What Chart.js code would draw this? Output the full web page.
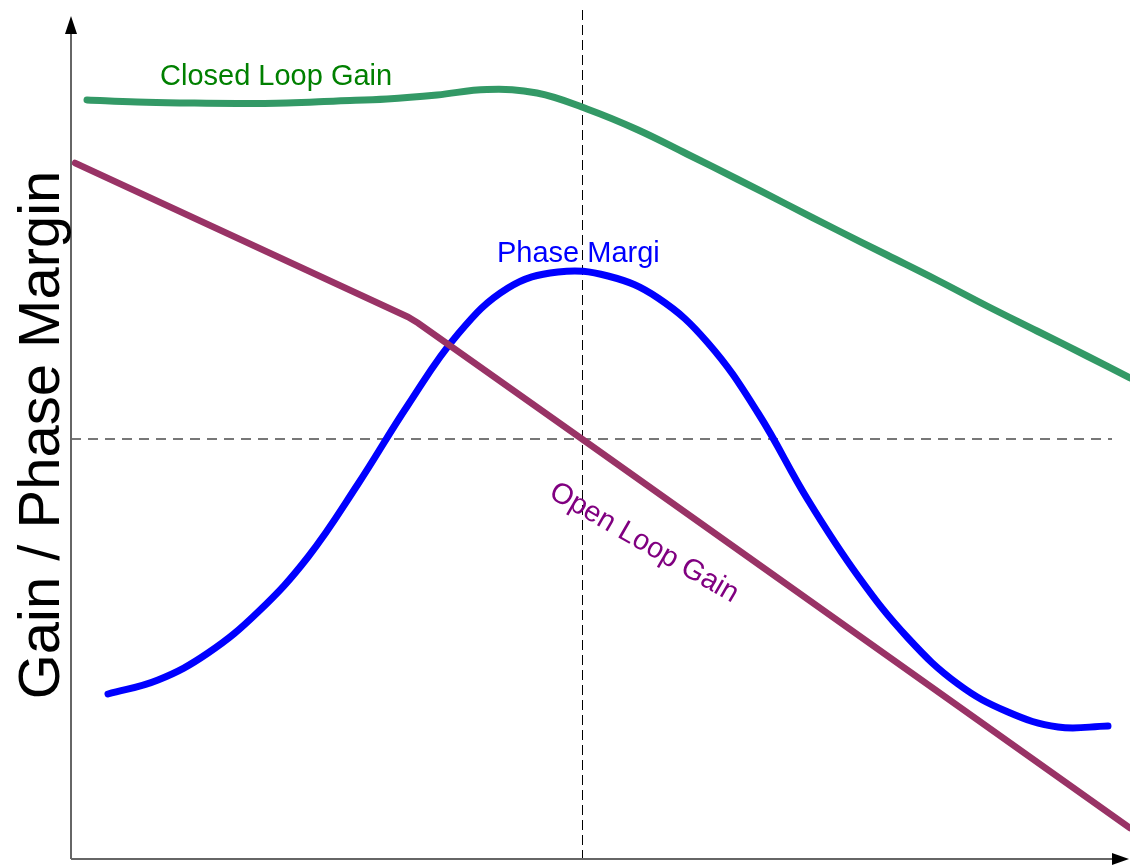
<!DOCTYPE html>
<html>
<head>
<meta charset="utf-8">
<script src="https://cdn.jsdelivr.net/npm/chart.js@4.4.1/dist/chart.umd.min.js"></script>
<style>
  html, body { margin: 0; padding: 0; background: #fff; }
  #wrap { width: 1130px; height: 865px; }
</style>
</head>
<body>
<div id="wrap"><canvas id="loopChart" width="1130" height="865"></canvas></div>
<script>
// values (x = distance along frequency axis, y = height above the axis)
const closedLoopX = [16, 66, 116, 166, 216, 266, 316, 366, 416, 466, 516, 566, 616, 666, 716, 766, 816, 866, 916, 966, 1016, 1059];
const closedLoopY = [759, 757, 756, 755.5, 756, 758, 760, 764, 769.5, 766, 750, 729.5, 705, 680, 654.5, 629, 604, 579, 553, 528, 503, 481];

const openLoopX = [4, 337, 347, 511, 1059];
const openLoopY = [696, 542, 536, 420, 31];

const phaseX = [37, 87, 137, 187, 237, 287, 337, 387, 437, 487, 537, 587, 637, 687, 737, 787, 837, 887, 937, 987, 1037];
const phaseY = [165, 179, 206, 247, 302, 375, 454, 525, 571, 587, 583, 561, 516, 446, 359, 283, 221, 175, 147, 132, 133];

// crossover marker (dashed guides)
const crossX = 511;
const crossY = 420;

const toPoints = (xs, ys) => xs.map((x, i) => ({ x, y: ys[i] }));

const guides = {
  id: 'guides',
  beforeDatasetsDraw(chart) {
    const { ctx, scales: { x, y } } = chart;
    const px = Math.round(x.getPixelForValue(crossX)) + 0.5;
    const py = Math.round(y.getPixelForValue(crossY));
    ctx.save();
    ctx.setLineDash([10, 7]);
    ctx.strokeStyle = '#777';
    ctx.lineWidth = 2;
    ctx.beginPath();
    ctx.moveTo(x.left, py);
    ctx.lineTo(1112, py);
    ctx.stroke();
    ctx.setLineDash([10, 5]);
    ctx.strokeStyle = '#000';
    ctx.lineWidth = 1;
    ctx.beginPath();
    ctx.moveTo(px, 10);
    ctx.lineTo(px, y.bottom);
    ctx.stroke();
    ctx.restore();
  },
  afterDraw(chart) {
    const { ctx, scales: { x, y } } = chart;
    const left = x.left, bottom = y.bottom;
    ctx.save();
    // axes
    ctx.strokeStyle = '#666';
    ctx.lineWidth = 2;
    ctx.beginPath();
    ctx.moveTo(left, bottom);
    ctx.lineTo(left, 30);
    ctx.moveTo(left, bottom);
    ctx.lineTo(1115, bottom);
    ctx.stroke();
    ctx.fillStyle = '#000';
    ctx.beginPath();
    ctx.moveTo(left, 16);
    ctx.lineTo(left - 6, 34);
    ctx.lineTo(left + 6, 34);
    ctx.closePath();
    ctx.fill();
    ctx.beginPath();
    ctx.moveTo(1129, bottom);
    ctx.lineTo(1112, bottom - 6);
    ctx.lineTo(1112, bottom + 6);
    ctx.closePath();
    ctx.fill();

    // curve labels
    ctx.font = '29px "Liberation Sans", Arial, sans-serif';
    ctx.textBaseline = 'alphabetic';
    ctx.textAlign = 'left';
    ctx.fillStyle = '#008000';
    ctx.fillText('Closed Loop Gain', 160, 85);
    ctx.fillStyle = '#0000ff';
    ctx.fillText('Phase Margi', 497, 262);

    ctx.save();
    ctx.translate(644, 543);
    ctx.rotate(30 * Math.PI / 180);
    ctx.textAlign = 'center';
    ctx.textBaseline = 'middle';
    ctx.fillStyle = '#800080';
    ctx.fillText('Open Loop Gain', 0, 0);
    ctx.restore();

    // y axis title
    ctx.save();
    ctx.translate(59, 435);
    ctx.rotate(-Math.PI / 2);
    ctx.textAlign = 'center';
    ctx.textBaseline = 'alphabetic';
    ctx.font = '58px "Liberation Sans", Arial, sans-serif';
    ctx.fillStyle = '#000';
    ctx.fillText('Gain / Phase Margin', 0, 0);
    ctx.restore();
    ctx.restore();
  }
};

new Chart(document.getElementById('loopChart'), {
  type: 'scatter',
  data: {
    datasets: [
      {
        label: 'Closed Loop Gain',
        data: toPoints(closedLoopX, closedLoopY),
        showLine: true,
        borderColor: '#339966',
        borderWidth: 7,
        tension: 0.4,
        pointRadius: 0,
        borderCapStyle: 'round'
      },
      {
        label: 'Open Loop Gain',
        data: toPoints(openLoopX, openLoopY),
        showLine: true,
        borderColor: '#993366',
        borderWidth: 6.5,
        tension: 0,
        pointRadius: 0,
        borderCapStyle: 'round'
      },
      {
        label: 'Phase Margin',
        data: toPoints(phaseX, phaseY),
        showLine: true,
        borderColor: '#0000ff',
        borderWidth: 7,
        tension: 0.4,
        pointRadius: 0,
        borderCapStyle: 'round'
      }
    ]
  },
  options: {
    responsive: false,
    animation: false,
    layout: { padding: { left: 71, right: 0, top: 0, bottom: 6 } },
    plugins: { legend: { display: false }, tooltip: { enabled: false } },
    scales: {
      x: { type: 'linear', min: 0, max: 1059, display: false },
      y: { type: 'linear', min: 0, max: 859, display: false }
    }
  },
  plugins: [guides]
});
</script>
</body>
</html>
